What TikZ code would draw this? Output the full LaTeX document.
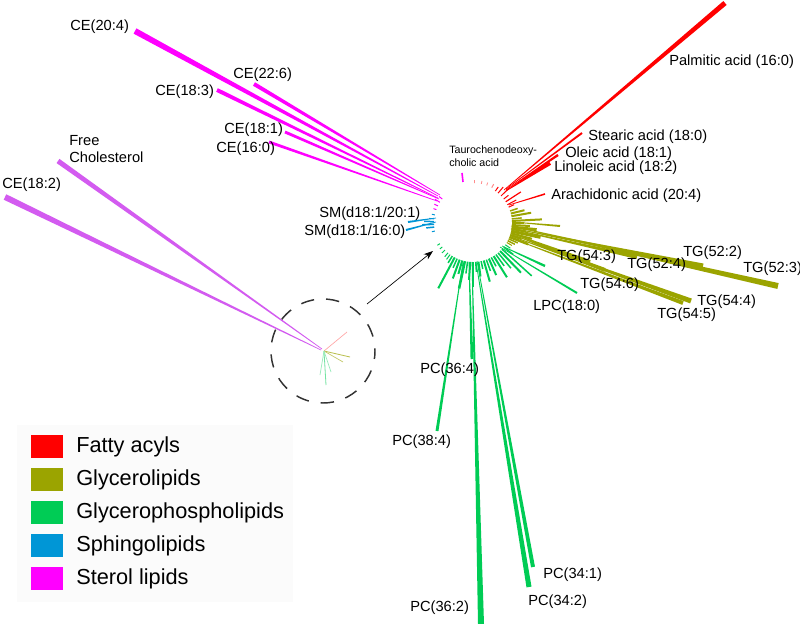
\documentclass[tikz,border=0pt]{standalone}
\usepackage{fontspec}
\setmainfont{Liberation Sans}
\usetikzlibrary{calc,arrows.meta}
\definecolor{fa}{HTML}{FF0000}
\definecolor{gl}{HTML}{9BA400}
\definecolor{gp}{HTML}{00CC55}
\definecolor{sp}{HTML}{0096D6}
\definecolor{st}{HTML}{FF00FF}
\definecolor{vi}{HTML}{D35BF0}
% tapered line: colour, start, end, half width at end
\newcommand\wl[4]{\fill[#1] ($(#2)!0.25pt!90:(#3)$) -- ($(#3)!#4!-90:(#2)$) -- ($(#3)!#4!90:(#2)$) -- ($(#2)!0.25pt!-90:(#3)$) -- cycle;}
\begin{document}
\begin{tikzpicture}[x=0.75pt,y=-0.75pt,
  lab/.style={anchor=west,inner sep=0pt,font=\fontsize{11}{13}\selectfont},
  leg/.style={anchor=west,inner sep=0pt,font=\fontsize{16.3}{19}\selectfont},
  swatch/.style={minimum width=24pt,minimum height=17.25pt,inner sep=0pt,draw=none}]
\useasboundingbox (0,0) rectangle (800,624);
\fill[white] (0,0) rectangle (800,624);
% legend background
\fill[black!1.5] (17,425) rectangle (293,602);
\coordinate (C) at (473,223);
% ---- short spokes round the circle
\foreach \a/\l/\w in {-88/3/0.8,-78/3/0.8,-70/3/0.8,-62/4/1}
  \draw[fa!45,line width=\w*0.75pt] ($(C)+({\a}:40)$) -- ($(C)+({\a}:{40+\l})$);
\foreach \a/\l/\w in {-55/5/1,-50/8/1,-44/12/1,-38/6/1,-33/18/1.2,-28/10/1,-24/6/1}
  \draw[fa,line width=\w*0.75pt] ($(C)+({\a}:39)$) -- ($(C)+({\a}:{39+\l})$);
\foreach \a/\l/\w in {-18/8/1.5,-14/14/2,-10/20/2,-6/10/1.5,-3/30/2,0/12/1.5,3/18/2,6/25/3,9/15/2,12/30/3,15/22/2,18/12/2,21/20/2.5,24/10/1.5,27/8/1.5,30/6/1}
  \draw[gl,line width=\w*0.75pt] ($(C)+({\a}:39)$) -- ($(C)+({\a}:{39+\l})$);
\foreach \a/\l/\w in {34/6/1,38/12/1.5,42/40/1.5,46/30/2,50/20/1.5,54/14/1.5,58/25/2,62/10/1.5,66/18/2,70/12/1.5,74/22/2,78/8/1.5,82/15/2,86/10/1.5,90/25/2,94/18/2,98/12/1.5,102/28/2.5,106/14/2,110/20/2,114/10/1.5,118/35/2,122/8/1.5,126/6/1,130/5/1,136/4/1,142/3/1,148/3/1}
  \draw[gp,line width=\w*0.75pt] ($(C)+({\a}:39)$) -- ($(C)+({\a}:{39+\l})$);
\foreach \a/\l/\w in {168/3/1,174/8/1.5,178/12/1.5,182/10/1.5,186/5/1,192/3/1}
  \draw[sp,line width=\w*0.75pt] ($(C)+({\a}:39)$) -- ($(C)+({\a}:{39+\l})$);
\foreach \a/\l/\w in {200/3/1,206/4/1,212/6/1,218/4/1}
  \draw[st,line width=\w*0.75pt] ($(C)+({\a}:39)$) -- ($(C)+({\a}:{39+\l})$);
\draw[st,line width=1.2pt] (462,173) -- (463,182);
% ---- fatty acyls
\wl{fa}{504,190}{725,3}{1.9pt}
\wl{fa}{506,189}{582,133}{0.75pt}
\wl{fa}{506,190}{558,155}{0.9pt}
\wl{fa}{506,191}{550,163}{1.5pt}
\wl{fa}{509,205}{545,194}{0.6pt}
% ---- sterol lipids
\wl{st}{438,196}{135,31}{2.25pt}
\wl{st}{440,195}{254,84}{1.5pt}
\wl{st}{438,198}{217,90}{1.5pt}
\wl{st}{439,199}{285,132}{1.1pt}
\wl{st}{437,201}{269,142}{1.1pt}
\wl{vi}{322,349}{58,161}{1.9pt}
\wl{vi}{321,350}{5,197}{2.25pt}
% ---- sphingolipids
\wl{sp}{436,218}{408,222}{0.75pt}
\wl{sp}{436,222}{406,230}{0.75pt}
% ---- glycerophospholipids
\wl{gp}{463,262}{437,431}{1.1pt}
\wl{gp}{469,262}{472,359}{1.1pt}
\wl{gp}{472,262}{481,624}{2.25pt}
\wl{gp}{477,261}{533,567}{1.5pt}
\wl{gp}{476,262}{529,587}{1.9pt}
\wl{gp}{500,247}{577,293}{0.75pt}
\wl{gp}{502,246}{545,266}{0.9pt}
% ---- glycerolipids
\wl{gl}{511,226}{778,286}{2.25pt}
\wl{gl}{511,228}{703,266}{1.9pt}
\wl{gl}{511,229}{637,257}{1.5pt}
\wl{gl}{511,233}{590,262}{1.5pt}
\wl{gl}{511,234}{605,270}{1.5pt}
\wl{gl}{511,236}{691,301}{1.9pt}
\wl{gl}{511,238}{683,303}{1.5pt}
\wl{gl}{513,222}{560,226}{0.75pt}
% ---- small tree inside dashed circle
\coordinate (c0) at (324,351);
\draw[fa!35,line width=0.5pt] (c0) -- (347,332);
\draw[gl!70,line width=0.6pt] (c0) -- (350,357);
\draw[gl!60,line width=0.5pt] (c0) -- (343,362);
\draw[gp!55,line width=0.6pt] (c0) -- (326,385);
\draw[gp!40,line width=0.5pt] (c0) -- (320,375);
\draw[gp!40,line width=0.5pt] (c0) -- (331,372);
\draw[black!80,line width=1.1pt,dash pattern=on 10pt off 9pt,dash phase=4pt] (323,351) circle[radius=52];
% ---- arrow
\coordinate (arrS) at (367,304);
\coordinate (arrE) at (433,251);
\draw[-{Stealth[length=7pt,width=5pt]},line width=0.5pt] (arrS) -- (arrE);
% ---- labels
\node[lab] (l1) at (669,62) {Palmitic acid (16:0)};
\node[lab] (l2) at (588,137) {Stearic acid (18:0)};
\node[lab] (l3) at (565,154) {Oleic acid (18:1)};
\node[lab] (l4) at (554,168) {Linoleic acid (18:2)};
\node[lab] (l5) at (551,196) {Arachidonic acid (20:4)};
\node[lab] (l6) at (70,27) {CE(20:4)};
\node[lab] (l7) at (233,75) {CE(22:6)};
\node[lab] (l8) at (155,92) {CE(18:3)};
\node[lab] (l9) at (224,130) {CE(18:1)};
\node[lab] (l10) at (216,149) {CE(16:0)};
\node[lab] (l11) at (69,141) {Free};
\node[lab] (l12) at (69,157) {Cholesterol};
\node[lab] (l13) at (2,185) {CE(18:2)};
\node[lab] (l14) at (319,214) {SM(d18:1/20:1)};
\node[lab] (l15) at (304,232) {SM(d18:1/16:0)};
\node[lab,font=\fontsize{8}{9}\selectfont] (l16) at (449,151) {Taurochenodeoxy-};
\node[lab,font=\fontsize{8}{9}\selectfont] (l17) at (449,163) {cholic acid};
\node[lab] (l18) at (683,253) {TG(52:2)};
\node[lab] (l19) at (743,269) {TG(52:3)};
\node[lab] (l20) at (627,265) {TG(52:4)};
\node[lab] (l21) at (557,257) {TG(54:3)};
\node[lab] (l22) at (580,285) {TG(54:6)};
\node[lab] (l23) at (697,302) {TG(54:4)};
\node[lab] (l24) at (657,315) {TG(54:5)};
\node[lab] (l25) at (533,307) {LPC(18:0)};
\node[lab] (l26) at (420,370) {PC(36:4)};
\node[lab] (l27) at (392,442) {PC(38:4)};
\node[lab] (l28) at (410,608) {PC(36:2)};
\node[lab] (l29) at (543,575) {PC(34:1)};
\node[lab] (l30) at (528,602) {PC(34:2)};
% ---- legend
\node[swatch,fill=fa] (s1) at (47,446.5) {};
\node[swatch,fill=gl] (s2) at (47,479.5) {};
\node[swatch,fill=gp] (s3) at (47,512.5) {};
\node[swatch,fill=sp] (s4) at (47,545.5) {};
\node[swatch,fill=st] (s5) at (47,578.5) {};
\node[leg] (t1) at (76,446.5) {Fatty acyls};
\node[leg] (t2) at (76,479.5) {Glycerolipids};
\node[leg] (t3) at (76,512.5) {Glycerophospholipids};
\node[leg] (t4) at (76,545.5) {Sphingolipids};
\node[leg] (t5) at (76,578.5) {Sterol lipids};
\end{tikzpicture}
\end{document}
